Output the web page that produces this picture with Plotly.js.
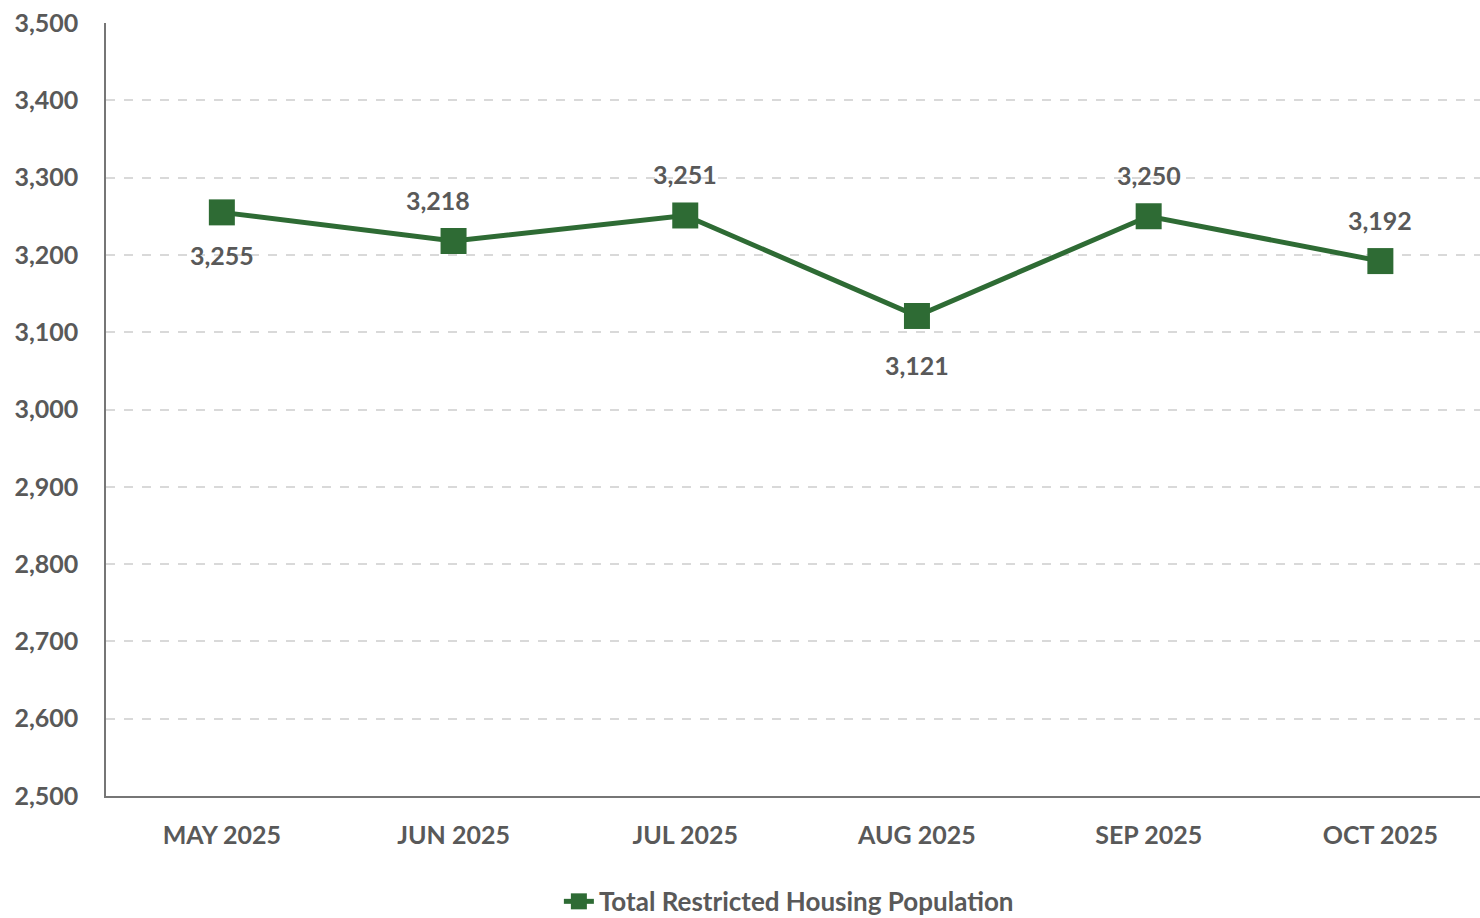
<!DOCTYPE html>
<html><head><meta charset="utf-8">
<script src="https://cdn.plot.ly/plotly-3.0.1.min.js"></script>
<style>html,body{margin:0;padding:0;background:#fff;}#chart{width:1480px;height:918px;}</style>
</head><body><div id="chart"></div>
<script>
var months = ["MAY 2025","JUN 2025","JUL 2025","AUG 2025","SEP 2025","OCT 2025"];
var population = [3255, 3218, 3251, 3121, 3250, 3192];
var labelShift = [-43, 41, 41, -49, 41, 41];
var labelXShift = [0, -16, 0, 0, 0, 0];
var seriesName = "Total Restricted Housing Population";

var FONT = "Lato, 'Open Sans', sans-serif";
var GREEN = "#2E6B34";
var GREY = "#595959";

var trace = {
  x: months, y: population, type: "scatter", mode: "lines+markers",
  name: seriesName,
  line: {color: GREEN, width: 5},
  marker: {symbol: "square", size: 26, color: GREEN},
  hoverinfo: "x+y"
};

var annotations = months.map(function(m, i){
  return {x: m, y: population[i], xref: "x", yref: "y",
    text: population[i].toLocaleString("en-US"), showarrow: false,
    yshift: labelShift[i], xshift: labelXShift[i],
    font: {family: FONT, size: 25, color: GREY, weight: "bold"}};
});

var layout = {
  width: 1480, height: 918,
  margin: {l: 106, r: 0, t: 23, b: 122, autoexpand: false},
  paper_bgcolor: "#fff", plot_bgcolor: "#fff",
  font: {family: FONT, color: GREY, size: 25, weight: "bold"},
  showlegend: true,
  legend: {orientation: "h", x: 0.497, xanchor: "center", y: -0.106, yanchor: "top",
    font: {family: FONT, size: 26, color: GREY, weight: "bold"}},
  xaxis: {type: "category", range: [-0.5, 5.43], showgrid: false, zeroline: false,
    showline: true, linecolor: "#767676", linewidth: 1.5, ticks: "",
    tickfont: {family: FONT, size: 25, color: GREY, weight: "bold"}, ticklabelstandoff: 16, fixedrange: true},
  yaxis: {range: [2500, 3500], dtick: 100, tickformat: ",d", showgrid: true,
    gridcolor: "#d9d9d9", griddash: "dash", gridwidth: 1.5, zeroline: false,
    showline: true, linecolor: "#767676", linewidth: 1.5, ticks: "",
    tickfont: {family: FONT, size: 25, color: GREY, weight: "bold"}, ticklabelstandoff: 21, fixedrange: true},
  annotations: annotations
};

Plotly.newPlot("chart", [trace], layout, {displayModeBar: false});
</script></body></html>
